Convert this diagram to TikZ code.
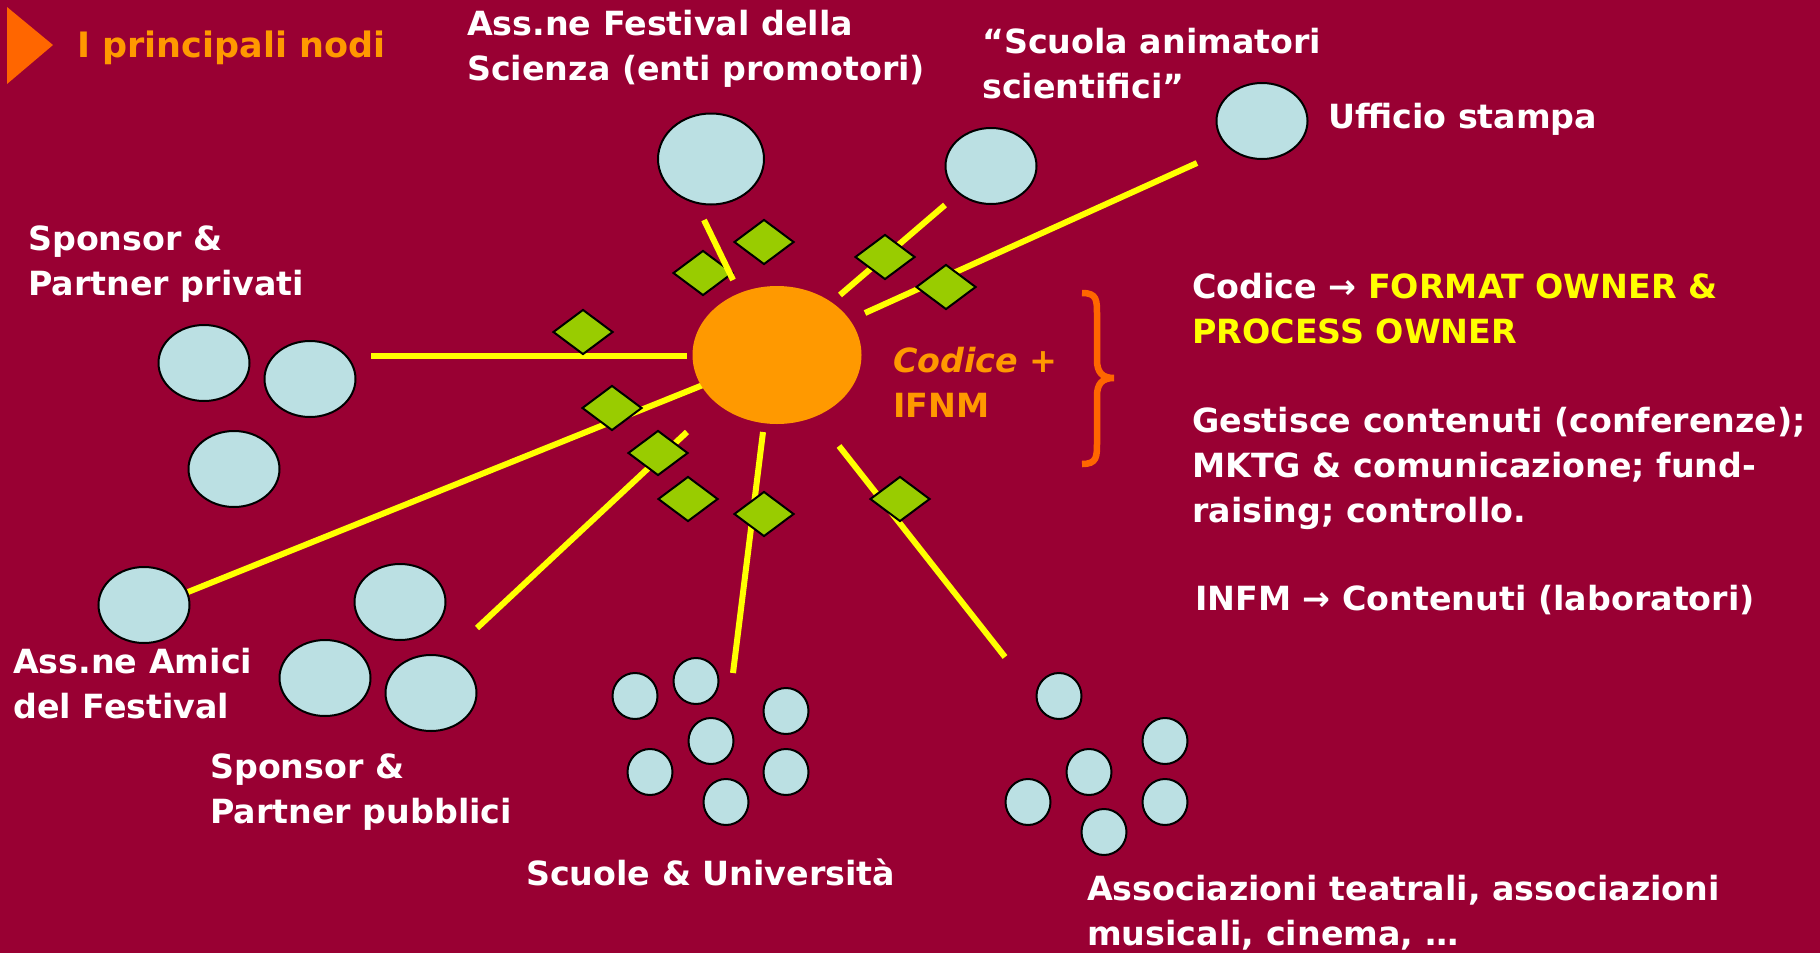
\documentclass[tikz,border=0pt]{standalone}
\usepackage{fontspec}
\setmainfont{DejaVu Sans}
\usepackage{xcolor}
\usetikzlibrary{shapes.geometric}
\definecolor{festbg}{HTML}{990033}
\definecolor{hubor}{HTML}{FF9900}
\definecolor{accentor}{HTML}{FF6600}
\definecolor{membl}{HTML}{BBE0E3}
\definecolor{linkyel}{HTML}{FFFF00}
\definecolor{gategrn}{HTML}{99CC00}
\tikzset{
  hub/.style={ellipse,fill=hubor,minimum width=169pt,minimum height=138pt,
              inner sep=0pt},
  member/.style={ellipse,draw=black,fill=membl,line width=2pt,
                 minimum width=91pt,minimum height=76pt,inner sep=0pt},
  bigmember/.style={member,minimum width=106pt,minimum height=91pt},
  smallmember/.style={member,minimum width=45pt,minimum height=46pt},
  link/.style={draw=linkyel,line width=6pt},
  gate/.style={diamond,draw=black,fill=gategrn,line width=2pt,
               minimum width=60pt,minimum height=45pt,inner sep=0pt},
  lbl/.style={text=white,font=\fontsize{33.3}{45}\selectfont\bfseries,
              align=left,anchor=base west,inner sep=0pt}
}

\begin{document}
\begin{tikzpicture}[x=1pt,y=-1pt]
    \fill[festbg] (0,0) rectangle (1820,953);
    \path[use as bounding box] (0,0) rectangle (1820,953);
    % title
    \fill[accentor] (7,7) -- (7,84) -- (53,45) -- cycle;
    \node[lbl,text=hubor,font=\fontsize{35}{42}\selectfont\bfseries] (title)
      at (77,57) {I principali nodi};
    % links from the hub
    \foreach \name/\from/\to in {anim/{840,295}/{945,205},
        stampa/{865,313}/{1197,163}, privati/{687,356}/{371,356},
        amici/{703,385}/{188,592}, pubblici/{687,432}/{477,628},
        scuole/{763,432}/{733,673}, assoc/{839,446}/{1005,657}}
    {
      \coordinate (\name-s) at (\from);
      \coordinate (\name-e) at (\to);
      \draw[link] (\name-s) -- (\name-e);
    }
    \node[hub] (hub) at (777,355) {};
    \foreach \i/\p in {1/{764,242},2/{703,273},3/{885,257},4/{946,287},
        5/{583,332},6/{612,408},7/{658,453},8/{688,499},9/{764,514},
        10/{900,499}}
      \node[gate] (gate\i) at (\p) {};
    \coordinate (promo-s) at (733,280);
    \coordinate (promo-e) at (704,220);
    \draw[link] (promo-s) -- (promo-e);
    % members
    \node[bigmember] (promo) at (711,159) {};
    \node[member] (anim) at (991,166) {};
    \node[member] (stampa) at (1262,121) {};
    \node[member] (privati1) at (204,363) {};
    \node[member] (privati2) at (310,379) {};
    \node[member] (privati3) at (234,469) {};
    \node[member] (amici) at (144,605) {};
    \node[member] (pubblici1) at (400,602) {};
    \node[member] (pubblici2) at (325,678) {};
    \node[member] (pubblici3) at (431,693) {};
    \foreach \i/\p in {1/{635,696},2/{696,681},3/{786,711},4/{711,741},
        5/{650,772},6/{786,772},7/{726,802}}
      \node[smallmember] (scuola\i) at (\p) {};
    \foreach \i/\p in {1/{1059,696},2/{1165,741},3/{1089,772},4/{1028,802},
        5/{1165,802},6/{1104,832}}
      \node[smallmember] (assoc\i) at (\p) {};
    % labels (base = last line)
    \node[lbl] (lblpromo) at (467,80) {Ass.ne Festival della\\Scienza (enti promotori)};
    \node[lbl] (lblanim) at (982,98) {“Scuola animatori\\scientifici”};
    \node[lbl] (lblstampa) at (1328,128) {Ufficio stampa};
    \node[lbl] (lblprivati) at (28,295) {Sponsor \&\\Partner privati};
    \node[lbl] (lblamici) at (13,718) {Ass.ne Amici\\del Festival};
    \node[lbl] (lblpubblici) at (210,823) {Sponsor \&\\Partner pubblici};
    \node[lbl] (lblscuole) at (526,885) {Scuole \& Università};
    \node[lbl] (lblassoc) at (1087,945)
      {Associazioni teatrali, associazioni\\musicali, cinema, …};
    \node[lbl,text=hubor] (lblhub) at (893,417) {{\itshape Codice} +\\IFNM};
    % roles
    \draw[accentor,line width=6.5pt]
      (1082,293) .. controls (1097,293) and (1097,300) .. (1097,315)
      -- (1097,360) .. controls (1097,372) and (1102,378) .. (1114,378)
      .. controls (1102,378) and (1097,384) .. (1097,396)
      -- (1097,442) .. controls (1097,457) and (1097,464) .. (1082,464);
    \node[lbl] (roleA) at (1192,343)
      {Codice → \textcolor{linkyel}{FORMAT OWNER \&}\\\textcolor{linkyel}{PROCESS OWNER}};
    \node[lbl] (roleB) at (1192,522)
      {Gestisce contenuti (conferenze);\\MKTG \& comunicazione; fund-\\raising; controllo.};
    \node[lbl] (roleC) at (1195,610) {INFM → Contenuti (laboratori)};
\end{tikzpicture}
\end{document}
